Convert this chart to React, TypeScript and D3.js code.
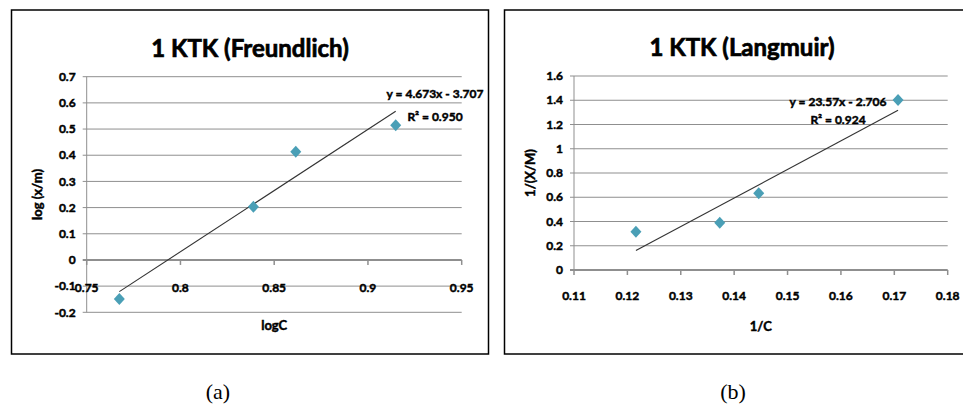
import React from 'react';
import * as d3 from 'd3';

// ---- Data: Freundlich (a)
const freundX = [0.7674, 0.8389, 0.8615, 0.9148];
const freundY = [-0.149, 0.203, 0.413, 0.515];
const freundXTicks = [0.75, 0.8, 0.85, 0.9, 0.95];
const freundXTickLabels = ['0.75', '0.8', '0.85', '0.9', '0.95'];
const freundYTicks = [-0.2, -0.1, 0, 0.1, 0.2, 0.3, 0.4, 0.5, 0.6, 0.7];
const freundYTickLabels = ['-0.2', '-0.1', '0', '0.1', '0.2', '0.3', '0.4', '0.5', '0.6', '0.7'];
const freundSlope = 4.673;
const freundIntercept = -3.707;
const freundEq = 'y = 4.673x - 3.707';
const freundR2 = 'R² = 0.950';

// ---- Data: Langmuir (b)
const langX = [0.1216, 0.1373, 0.1446, 0.1707];
const langY = [0.316, 0.39, 0.633, 1.402];
const langXTicks = [0.11, 0.12, 0.13, 0.14, 0.15, 0.16, 0.17, 0.18];
const langXTickLabels = ['0.11', '0.12', '0.13', '0.14', '0.15', '0.16', '0.17', '0.18'];
const langYTicks = [0, 0.2, 0.4, 0.6, 0.8, 1, 1.2, 1.4, 1.6];
const langYTickLabels = ['0', '0.2', '0.4', '0.6', '0.8', '1', '1.2', '1.4', '1.6'];
const langSlope = 23.57;
const langIntercept = -2.706;
const langEq = 'y = 23.57x - 2.706';
const langR2 = 'R² = 0.924';

const FONT = 'Lato, "Open Sans", sans-serif';
const GRID = '#8f8f8f';
const MARK = '#4a9fb6';
const HEAVY = { stroke: '#000', strokeWidth: 0.45 } as const;

type ChartProps = {
  box: [number, number, number, number];
  plot: { left: number; right: number; top: number; bottom: number };
  title: string;
  xs: number[];
  ys: number[];
  xTicks: number[];
  xTickLabels: string[];
  yTicks: number[];
  yTickLabels: string[];
  slope: number;
  intercept: number;
  eq: string;
  r2: string;
  eqPos: [number, number, number];
  xTitle: string;
  yTitle: string;
  xLabelY: number;
  xTitleY: number;
  titleY: number;
  titleX: number;
};

function Chart(p: ChartProps) {
  const x = d3
    .scaleLinear()
    .domain([p.xTicks[0], p.xTicks[p.xTicks.length - 1]])
    .range([p.plot.left, p.plot.right]);
  const y = d3
    .scaleLinear()
    .domain([p.yTicks[0], p.yTicks[p.yTicks.length - 1]])
    .range([p.plot.bottom, p.plot.top]);
  const [bx0, by0, bx1, by1] = p.box;
  const xmin = d3.min(p.xs) as number;
  const xmax = d3.max(p.xs) as number;
  const fit = d3
    .line<number>()
    .x((v) => x(v))
    .y((v) => y(p.slope * v + p.intercept));
  const y0 = y(0);
  const cx = (p.plot.left + p.plot.right) / 2;
  const cy = (p.plot.top + p.plot.bottom) / 2;
  return (
    <g>
      <rect x={bx0} y={by0} width={bx1 - bx0} height={by1 - by0} fill="none" stroke="#000" strokeWidth={1.5} />
      <text x={p.titleX} y={p.titleY} textAnchor="middle" fontFamily={FONT} fontWeight={700} fontSize={24} fill="#000" {...HEAVY} strokeWidth={0.7}>
        {p.title}
      </text>
      {p.yTicks.map((t, i) => (
        <g key={'g' + i}>
          <line
            x1={p.plot.left - 4}
            x2={p.plot.right}
            y1={y(t)}
            y2={y(t)}
            stroke={GRID}
            strokeWidth={t === 0 ? 2 : 1}
          />
          <text
            x={p.plot.left - 11}
            y={y(t)}
            dy="0.35em"
            textAnchor="end"
            fontFamily={FONT}
            fontWeight={700}
            fontSize={12}
            fill="#000"
            {...HEAVY}
          >
            {p.yTickLabels[i]}
          </text>
        </g>
      ))}
      <line x1={p.plot.left} x2={p.plot.left} y1={p.plot.top} y2={p.plot.bottom} stroke={GRID} strokeWidth={1} />
      {p.xTicks.map((t, i) => (
        <g key={'x' + i}>
          <line x1={x(t)} x2={x(t)} y1={y0} y2={y0 + 5} stroke={GRID} strokeWidth={1.5} />
          <text
            x={x(t)}
            y={p.xLabelY}
            dy="0.35em"
            textAnchor="middle"
            fontFamily={FONT}
            fontWeight={700}
            fontSize={12}
            fill="#000"
            {...HEAVY}
          >
            {p.xTickLabels[i]}
          </text>
        </g>
      ))}
      <path d={fit([xmin, xmax]) || ''} stroke="#333" strokeWidth={1.1} fill="none" />
      {p.xs.map((v, i) => {
        const px = x(v);
        const py = y(p.ys[i]);
        return (
          <path
            key={'m' + i}
            d={`M${px},${py - 6}L${px + 5.5},${py}L${px},${py + 6}L${px - 5.5},${py}Z`}
            fill={MARK}
          />
        );
      })}
      <text x={p.eqPos[0]} y={p.eqPos[1]} textAnchor="middle" fontFamily={FONT} fontWeight={700} fontSize={12} fill="#000" {...HEAVY}>
        {p.eq}
      </text>
      <text x={p.eqPos[0]} y={p.eqPos[2]} textAnchor="middle" fontFamily={FONT} fontWeight={700} fontSize={12} fill="#000" {...HEAVY}>
        {p.r2}
      </text>
      <text x={cx} y={p.xTitleY} textAnchor="middle" fontFamily={FONT} fontWeight={700} fontSize={13} fill="#000" {...HEAVY}>
        {p.xTitle}
      </text>
      <text
        transform={`translate(${bx0 + 26},${cy}) rotate(-90)`}
        textAnchor="middle"
        dy="0.35em"
        fontFamily={FONT}
        fontWeight={700}
        fontSize={13}
        fill="#000"
        {...HEAVY}
      >
        {p.yTitle}
      </text>
    </g>
  );
}

export default function App() {
  return (
    <svg width={963} height={405} style={{ position: 'absolute', left: 0, top: 0, background: '#fff' }}>
      <Chart
        box={[11.5, 10, 488.5, 354]}
        plot={{ left: 86.7, right: 461.7, top: 76.7, bottom: 312.3 }}
        title="1 KTK (Freundlich)"
        titleX={250}
        titleY={57}
        xs={freundX}
        ys={freundY}
        xTicks={freundXTicks}
        xTickLabels={freundXTickLabels}
        yTicks={freundYTicks}
        yTickLabels={freundYTickLabels}
        slope={freundSlope}
        intercept={freundIntercept}
        eq={freundEq}
        r2={freundR2}
        eqPos={[435, 98, 121]}
        xTitle="logC"
        yTitle="log (x/m)"
        xLabelY={288}
        xTitleY={330}
      />
      <Chart
        box={[504.5, 10, 985, 354]}
        plot={{ left: 574, right: 947.7, top: 76, bottom: 270 }}
        title="1 KTK (Langmuir)"
        titleX={742}
        titleY={56}
        xs={langX}
        ys={langY}
        xTicks={langXTicks}
        xTickLabels={langXTickLabels}
        yTicks={langYTicks}
        yTickLabels={langYTickLabels}
        slope={langSlope}
        intercept={langIntercept}
        eq={langEq}
        r2={langR2}
        eqPos={[838, 106, 124]}
        xTitle="1/C"
        yTitle="1/(X/M)"
        xLabelY={296}
        xTitleY={331}
      />
      <text x={218} y={399} textAnchor="middle" fontFamily='"Liberation Serif", "DejaVu Serif", serif' fontSize={22} fill="#000">
        (a)
      </text>
      <text x={733} y={399} textAnchor="middle" fontFamily='"Liberation Serif", "DejaVu Serif", serif' fontSize={22} fill="#000">
        (b)
      </text>
    </svg>
  );
}
